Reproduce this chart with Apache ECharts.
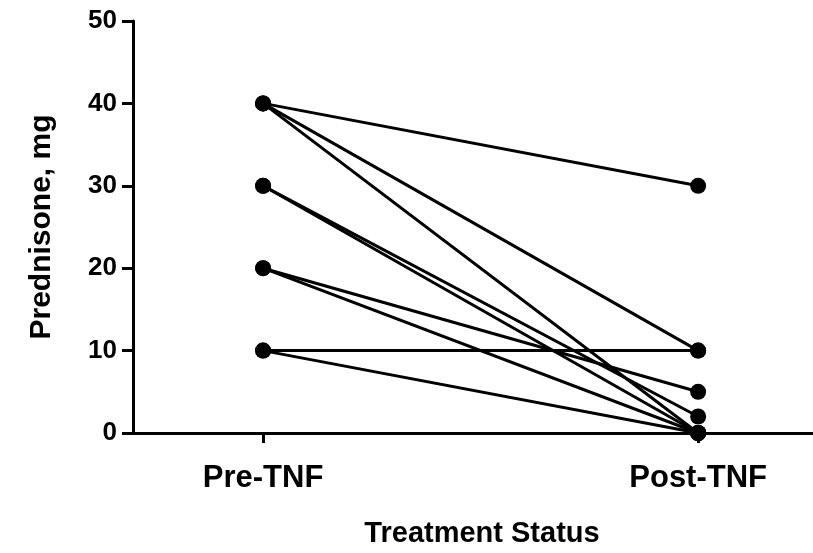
<!DOCTYPE html>
<html>
<head>
<meta charset="utf-8">
<script src="https://cdn.jsdelivr.net/npm/echarts@6/dist/echarts.min.js"></script>
<style>
  html, body { margin: 0; padding: 0; background: #fff; }
  #chart { width: 813px; height: 553px; }
</style>
</head>
<body>
<div id="chart"></div>
<script>
// 组别标签
const groups = ['Pre-TNF', 'Post-TNF'];
// 每位患者治疗前后的泼尼松剂量 (mg)
const preValues  = [40, 40, 40, 30, 30, 20, 20, 10, 10];
const postValues = [30, 10, 0, 2, 0, 5, 0, 10, 0];
const yTicks = [0, 10, 20, 30, 40, 50];

const font = 'Liberation Sans, Arial, Helvetica, sans-serif';

const chart = echarts.init(document.getElementById('chart'));

const series = preValues.map((pre, i) => ({
  type: 'line',
  data: [[0, pre], [1, postValues[i]]],
  symbol: 'circle',
  symbolSize: 16,
  clip: false,
  lineStyle: { color: '#000', width: 3 },
  itemStyle: { color: '#000' },
  emphasis: { disabled: true },
  z: 3
}));

chart.setOption({
  animation: false,
  backgroundColor: '#fff',
  grid: { left: 133, right: 0, top: 21, bottom: 113, containLabel: false },
  xAxis: {
    type: 'value',
    min: -0.299,
    max: 1.264,
    name: 'Treatment Status',
    nameLocation: 'middle',
    nameGap: 86,
    nameTextStyle: { fontFamily: font, fontWeight: 'bold', fontSize: 29, color: '#000', padding: [0, 0, 0, 18] },
    axisLine: { show: true, onZero: false, lineStyle: { color: '#000', width: 3 } },
    axisTick: { show: true, customValues: [0, 1], length: 10, inside: false, lineStyle: { color: '#000', width: 3 } },
    axisLabel: {
      customValues: [0, 1],
      margin: 30,
      fontFamily: font, fontWeight: 'bold', fontSize: 31, color: '#000',
      formatter: v => groups[Math.round(v)]
    },
    splitLine: { show: false }
  },
  yAxis: {
    type: 'value',
    min: 0,
    max: 50,
    interval: 10,
    name: 'Prednisone, mg',
    nameLocation: 'middle',
    nameGap: 76,
    nameTextStyle: { fontFamily: font, fontWeight: 'bold', fontSize: 30, color: '#000' },
    axisLine: { show: true, onZero: false, lineStyle: { color: '#000', width: 3 } },
    axisTick: { show: true, length: 11, lineStyle: { color: '#000', width: 3 } },
    axisLabel: {
      margin: 16,
      fontFamily: font, fontWeight: 'bold', fontSize: 26, color: '#000',
      formatter: v => yTicks.includes(v) ? String(v) : ''
    },
    splitLine: { show: false }
  },
  series
});
</script>
</body>
</html>
